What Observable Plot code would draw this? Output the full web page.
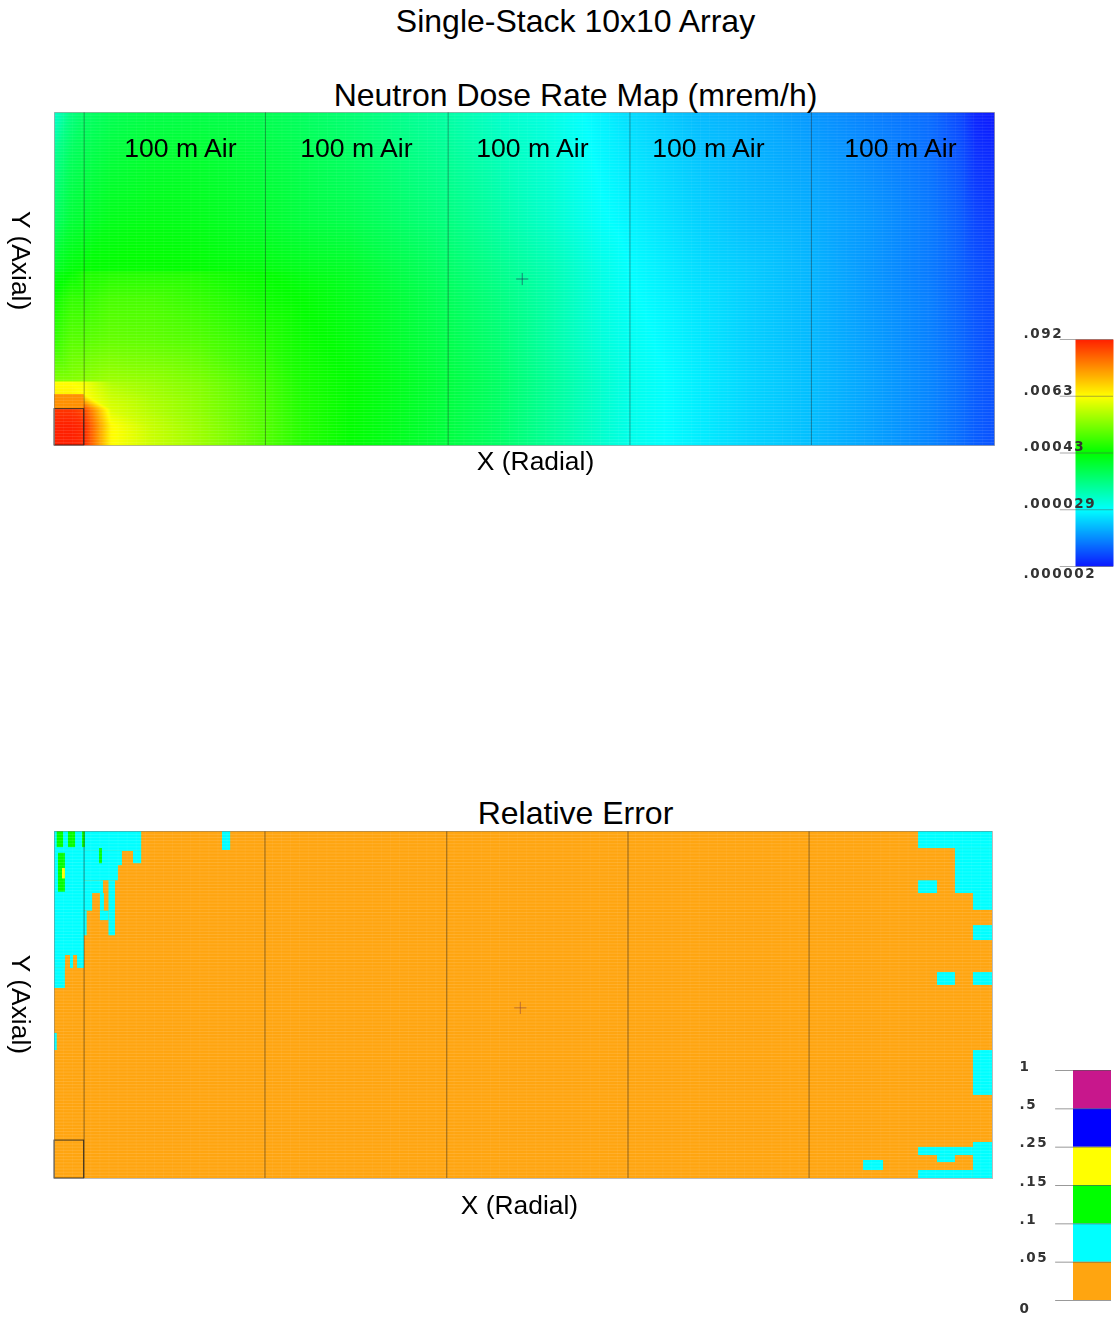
<!DOCTYPE html>
<html>
<head>
<meta charset="utf-8">
<script src="https://cdn.jsdelivr.net/npm/d3@7"></script>
<script src="https://cdn.jsdelivr.net/npm/@observablehq/plot@0.6"></script>
<style>
  html, body { margin: 0; padding: 0; background: #fff; }
  #page { position: relative; width: 1115px; height: 1321px; overflow: hidden; font-family: "Liberation Sans", Arial, sans-serif; }
  .title { position: absolute; left: 575.5px; transform: translateX(-50%); font-size: 32px; line-height: 32px; color: #000; white-space: nowrap; z-index: 2; }
  .panel { position: absolute; filter: blur(0.55px); }
  .panel svg { display: block; overflow: visible; background: transparent; }
  .panel.legend text { letter-spacing: 1.6px; }
</style>
</head>
<body>
<div id="page"></div>
<script>
// ---- texts
const mainTitle = "Single-Stack 10x10 Array";
const doseTitle = "Neutron Dose Rate Map (mrem/h)";
const errorTitle = "Relative Error";
const xLabel = "X (Radial)";
const yLabel = "Y (Axial)";
const airLabel = "100 m Air";

// ---- geometry of the model, metres
const xExtent = [0, 516.5];
const yExtent = [0, 183];
const doseBoundaries = [16.3, 115.9, 216.3, 316.2, 415.9];
const errorBoundaries = [16.3, 115.9, 216, 315.8, 415.5];
const airLabelX = [69.2, 165.9, 262.6, 359.3, 464.8];
const stackBox = [{x1: 0, x2: 16.3, y1: 0, y2: 20}];
const doseCentre = [{x: 257, y: 91.5}];
const errorCentre = [{x: 256.5, y: 90}];
// calculation mesh, drawn as faint stripes
const meshY = d3.range(0, 183, 1.65);
const meshX = d3.range(0, 516.5, 5);

// ---- dose legend: a colour level per labelled dose (five log-spaced stops)
const doseLevels = [0, 1, 2, 3, 4];
const doseLabels = [".000002", ".000029", ".00043", ".0063", ".092"];
const doseColors = ["#0c18ff", "#00ffff", "#00ff00", "#ffff00", "#ff2000"];

// ---- dose field, read as colour level on the grid below
const doseX = [0, 9, 16.5, 31, 53, 80, 116, 135, 163, 190, 216.5, 245, 273, 300, 316.5, 355, 382, 416, 449, 482, 498, 506, 516.5];
const doseY = [183, 157, 124, 96, 95.5, 80, 57, 35.5, 35, 28, 20, 11, 0];
const doseRows = [
  [1.20, 1.50, 1.60, 1.68, 1.72, 1.72, 1.68, 1.63, 1.55, 1.45, 1.35, 1.20, 1.10, 0.95, 0.85, 0.70, 0.65, 0.55, 0.45, 0.35, 0.20, 0.05, 0.00],
  [1.45, 1.65, 1.70, 1.78, 1.82, 1.82, 1.75, 1.70, 1.62, 1.52, 1.42, 1.28, 1.15, 0.98, 0.90, 0.75, 0.68, 0.60, 0.50, 0.38, 0.25, 0.12, 0.08],
  [1.60, 1.78, 1.82, 1.90, 1.92, 1.90, 1.82, 1.76, 1.70, 1.60, 1.50, 1.35, 1.20, 1.02, 0.95, 0.80, 0.72, 0.65, 0.55, 0.42, 0.30, 0.20, 0.15],
  [1.85, 1.97, 2.00, 2.02, 2.02, 2.00, 1.95, 1.90, 1.85, 1.72, 1.60, 1.45, 1.30, 1.10, 1.00, 0.85, 0.78, 0.68, 0.55, 0.42, 0.32, 0.25, 0.20],
  [1.90, 2.00, 2.10, 2.12, 2.12, 2.10, 2.00, 1.92, 1.85, 1.72, 1.60, 1.45, 1.30, 1.10, 1.00, 0.85, 0.78, 0.68, 0.55, 0.42, 0.32, 0.25, 0.20],
  [2.05, 2.20, 2.20, 2.28, 2.28, 2.20, 2.05, 2.00, 1.90, 1.78, 1.65, 1.50, 1.33, 1.12, 1.02, 0.88, 0.79, 0.69, 0.56, 0.44, 0.33, 0.26, 0.21],
  [2.20, 2.35, 2.35, 2.40, 2.38, 2.32, 2.15, 2.05, 1.95, 1.82, 1.70, 1.55, 1.35, 1.15, 1.05, 0.90, 0.80, 0.70, 0.58, 0.45, 0.35, 0.28, 0.22],
  [2.50, 2.52, 2.55, 2.62, 2.58, 2.48, 2.25, 2.10, 2.00, 1.88, 1.75, 1.60, 1.40, 1.20, 1.08, 0.92, 0.82, 0.72, 0.60, 0.47, 0.37, 0.30, 0.25],
  [3.00, 3.00, 2.95, 2.68, 2.60, 2.50, 2.26, 2.10, 2.00, 1.88, 1.75, 1.60, 1.40, 1.20, 1.08, 0.92, 0.82, 0.72, 0.60, 0.47, 0.37, 0.30, 0.25],
  [3.05, 3.05, 3.00, 2.78, 2.65, 2.53, 2.28, 2.12, 2.00, 1.88, 1.75, 1.60, 1.40, 1.20, 1.08, 0.92, 0.82, 0.72, 0.60, 0.47, 0.37, 0.30, 0.25],
  [3.90, 3.90, 3.80, 2.86, 2.70, 2.55, 2.30, 2.13, 2.00, 1.88, 1.75, 1.60, 1.40, 1.20, 1.08, 0.92, 0.82, 0.72, 0.60, 0.47, 0.37, 0.30, 0.25],
  [4.00, 4.00, 3.95, 3.02, 2.78, 2.60, 2.32, 2.15, 2.00, 1.88, 1.75, 1.60, 1.40, 1.20, 1.08, 0.92, 0.82, 0.72, 0.60, 0.47, 0.37, 0.30, 0.25],
  [4.00, 4.00, 3.95, 3.02, 2.80, 2.62, 2.32, 2.15, 2.00, 1.88, 1.75, 1.60, 1.40, 1.20, 1.08, 0.92, 0.82, 0.72, 0.60, 0.47, 0.37, 0.30, 0.25]
];
const doseField = doseRows.flatMap((row, j) => row.map((level, i) => ({x: doseX[i], y: doseY[j], level})));

// ---- orange band just above the stack
const orangeBand = [{x1: 0, x2: 16.3, y1: 20, y2: 28, level: 3.5}];

// ---- relative error legend
const errorEdges = [0, 0.05, 0.1, 0.15, 0.25, 0.5, 1];
const errorLabels = ["0", ".05", ".1", ".15", ".25", ".5", "1"];
const errorThresholds = [0.05, 0.1, 0.15, 0.25, 0.5];
const errorColors = ["#ffa510", "#00ffff", "#00ff00", "#ffff00", "#0000ff", "#c8178c"];

const errorBackground = [{x1: 0, x2: 516.5, y1: 0, y2: 183, err: 0.03}];
const cyanRegions = [
  [0, 16.5, 110.8, 183], [0, 6, 100.2, 110.8], [0, 1.5, 67.5, 76.5],
  [16.5, 48, 172.5, 183], [16.5, 37.4, 165, 172.5], [43.5, 48, 166, 172.5],
  [16.5, 35.2, 157, 166], [16.5, 33.6, 150.3, 157],
  [16.5, 21, 141, 150.3], [25.3, 27.5, 141, 150.3], [30, 33.6, 128, 150.3], [25.3, 30, 136, 141], [16.5, 18, 128, 141],
  [92.5, 97, 173, 183],
  [475.8, 516.5, 174, 183], [496.1, 516.5, 150.3, 174], [506, 516.5, 141.4, 150.3],
  [475.8, 486.2, 150.3, 157], [506, 516.5, 125.5, 133.4], [486.2, 496.1, 101.8, 108.6], [506, 516.5, 101.8, 108.6],
  [506, 516.5, 43.8, 67.5], [506, 516.5, 0, 19],
  [475.8, 506, 12.1, 16.4], [486.2, 496.1, 8.4, 12.1], [475.8, 506, 0, 4.2], [445.5, 456.5, 4.2, 9.5]
];
const orangeRegions = [[6.1, 8.8, 110, 117.6], [10.5, 12.7, 110, 117.6], [27, 30, 150.3, 157]];
const greenRegions = [[24.8, 26.4, 166, 174], [1.5, 5, 174.5, 183], [7.7, 11.6, 174.5, 183], [15.4, 17, 174.5, 183], [2.2, 6, 151, 171.5]];
const yellowRegions = [[4.4, 6, 158, 163.5]];
const asRegions = (list, err) => list.map(([x1, x2, y1, y2]) => ({x1, x2, y1, y2, err}));
const errorRegions = [
  ...errorBackground,
  ...asRegions(cyanRegions, 0.07),
  ...asRegions(orangeRegions, 0.03),
  ...asRegions(greenRegions, 0.12),
  ...asRegions(yellowRegions, 0.2)
];

// ---- shared options
const fontFamily = '"Liberation Sans", Arial, sans-serif';
const legendFont = '"DejaVu Sans", sans-serif';
const doseColor = {type: "linear", domain: doseLevels, range: doseColors, interpolate: "rgb"};
const errorColor = {type: "threshold", domain: errorThresholds, range: errorColors};

const page = document.getElementById("page");
function addTitle(text, top) {
  const d = document.createElement("div");
  d.className = "title";
  d.style.top = top + "px";
  d.textContent = text;
  page.appendChild(d);
}
function place(svg, left, top, extraClass) {
  const d = document.createElement("div");
  d.className = "panel" + (extraClass ? " " + extraClass : "");
  d.style.left = left + "px";
  d.style.top = top + "px";
  d.appendChild(svg);
  page.appendChild(d);
}
function meshMarks(opacity) {
  return [
    Plot.ruleY(meshY, {stroke: "#fff", strokeOpacity: opacity, strokeWidth: 1}),
    Plot.ruleX(meshX, {stroke: "#fff", strokeOpacity: opacity * 0.4, strokeWidth: 1})
  ];
}
function modelMarks(boundaries, centre, lineOpacity, xLabelAt, yLabelAt, markStroke) {
  return [
    Plot.ruleX(boundaries, {stroke: "#222", strokeOpacity: lineOpacity, strokeWidth: 1}),
    Plot.rect(stackBox, {x1: "x1", x2: "x2", y1: "y1", y2: "y2", stroke: "#222", strokeOpacity: 0.85, fill: "none"}),
    Plot.dot(centre, {x: "x", y: "y", symbol: "plus", r: 4, stroke: markStroke, strokeOpacity: 0.55, strokeWidth: 1}),
    Plot.frame({stroke: "#777", strokeOpacity: 0.5}),
    Plot.text([xLabel], {x: () => xLabelAt[0], y: () => xLabelAt[1], text: d => d, fontSize: 26.4, fill: "#000", fontFamily}),
    Plot.text([yLabel], {x: () => yLabelAt[0], y: () => yLabelAt[1], text: d => d, fontSize: 26.4, fill: "#000", rotate: 90, fontFamily})
  ];
}
const legendText = {frameAnchor: "left", text: d => d, textAnchor: "start", fontSize: 13.5, fontWeight: "bold", fill: "#333", fontFamily: legendFont};

addTitle(mainTitle, 5);
addTitle(doseTitle, 79);
addTitle(errorTitle, 797);

// ---- dose map
place(Plot.plot({
  width: 1000, height: 373,
  marginLeft: 54, marginRight: 6, marginTop: 0, marginBottom: 40,
  style: {fontFamily, background: "transparent"},
  x: {domain: xExtent, axis: null},
  y: {domain: yExtent, axis: null},
  color: doseColor,
  marks: [
    Plot.raster(doseField, {x: "x", y: "y", fill: "level", interpolate: "barycentric"}),
    Plot.rect(orangeBand, {x1: "x1", x2: "x2", y1: "y1", y2: "y2", fill: "level"}),
    ...meshMarks(0.1),
    ...modelMarks(doseBoundaries, doseCentre, 0.42, [264.3, -8.8], [-18.7, 101.6], "#225"),
    Plot.text(airLabelX, {x: d => d, y: () => 163, text: () => airLabel, fontSize: 26.6, fill: "#000", fontFamily})
  ]
}), 0, 112);

// ---- dose legend
place(Plot.plot({
  width: 105, height: 260,
  marginLeft: 65, marginRight: 2, marginTop: 9, marginBottom: 24,
  style: {background: "transparent"},
  x: {domain: [0, 1], axis: null},
  y: {domain: [0, 4], axis: null},
  color: doseColor,
  marks: [
    Plot.raster(doseLevels.flatMap(level => [0, 1].map(x => ({x, level}))), {x: "x", y: "level", fill: "level", interpolate: "barycentric"}),
    Plot.ruleY(doseLevels, {y: d => d, x1: -0.4, x2: 1, stroke: "#555", strokeOpacity: 0.5, strokeWidth: 1}),
    Plot.text(doseLabels.slice(1), {...legendText, y: (d, i) => doseLevels[i + 1], dx: -52, dy: -6}),
    Plot.text(doseLabels.slice(0, 1), {...legendText, y: () => doseLevels[0], dx: -52, dy: 7})
  ]
}), 1010, 330, "legend");

// ---- relative error map
place(Plot.plot({
  width: 1000, height: 392,
  marginLeft: 54, marginRight: 8, marginTop: 0, marginBottom: 45,
  style: {fontFamily, background: "transparent"},
  x: {domain: xExtent, axis: null},
  y: {domain: yExtent, axis: null},
  color: errorColor,
  marks: [
    Plot.rect(errorRegions, {x1: "x1", x2: "x2", y1: "y1", y2: "y2", fill: "err"}),
    ...meshMarks(0.12),
    ...modelMarks(errorBoundaries, errorCentre, 0.5, [256, -14.2], [-18.7, 91.8], "#844")
  ]
}), 0, 831);

// ---- relative error legend
const errorBands = errorEdges.slice(0, -1).map((lo, i) => ({lo, y1: i, y2: i + 1}));
place(Plot.plot({
  width: 105, height: 270,
  marginLeft: 63, marginRight: 4, marginTop: 10, marginBottom: 30,
  style: {background: "transparent"},
  x: {domain: [0, 1], axis: null},
  y: {domain: [0, 6], axis: null},
  color: errorColor,
  marks: [
    Plot.rect(errorBands, {x1: () => 0, x2: () => 1, y1: "y1", y2: "y2", fill: "lo"}),
    Plot.ruleY(errorEdges, {y: (d, i) => i, x1: -0.47, x2: 1, stroke: "#555", strokeOpacity: 0.6, strokeWidth: 1}),
    Plot.text(errorLabels.slice(1), {...legendText, y: (d, i) => i + 1, dx: -54, dy: -4}),
    Plot.text(errorLabels.slice(0, 1), {...legendText, y: () => 0, dx: -54, dy: 8})
  ]
}), 1010, 1060, "legend");
</script>
</body>
</html>
